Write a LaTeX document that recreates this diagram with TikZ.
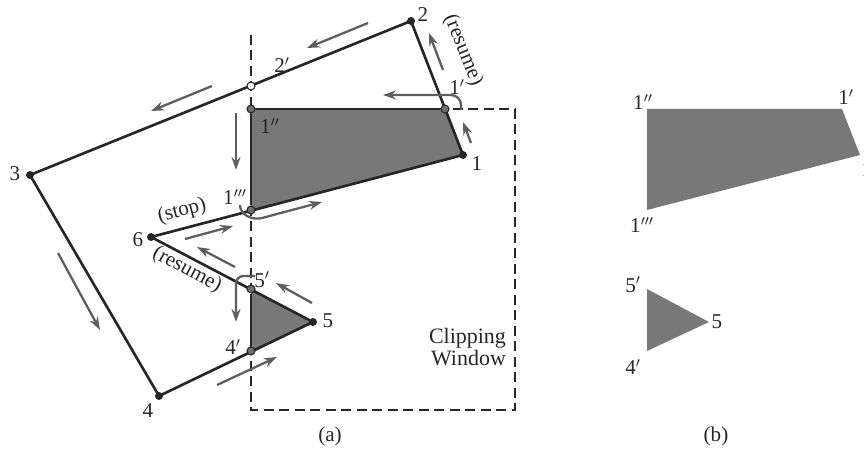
\documentclass[tikz,border=0pt]{standalone}
\usepackage{fontspec}
\setmainfont{Liberation Serif}
\usetikzlibrary{arrows.meta,backgrounds}
\definecolor{polyfill}{HTML}{787878}
\definecolor{edgeblack}{HTML}{262626}
\definecolor{flowgray}{HTML}{5E5E5E}
\definecolor{dotgray}{HTML}{6E6E6E}
\tikzset{
  >={Stealth[length=2.6mm,width=1.8mm]},
  % hörn
  pv/.style={circle,fill=edgeblack,inner sep=0pt,minimum size=1.6mm},
  px/.style={circle,draw=edgeblack,fill=dotgray,line width=0.6pt,inner sep=0pt,minimum size=1.6mm},
  po/.style={circle,draw=edgeblack,fill=white,line width=0.6pt,inner sep=0pt,minimum size=1.6mm},
  % kanter
  pe/.style={draw=edgeblack,line width=1.5pt},
  win/.style={draw=edgeblack,line width=0.9pt,dash pattern=on 2mm off 1.1mm},
  flow/.style={->,draw=flowgray,line width=1.3pt},
  region/.style={fill=polyfill},
  lb/.style={font=\fontsize{12}{13}\selectfont,text=edgeblack,inner sep=1pt},
  wcap/.style={font=\fontsize{12.5}{12.5}\selectfont,text=edgeblack,inner sep=1pt},
}

\begin{document}
\begin{tikzpicture}[x=0.2mm,y=-0.2mm]
  \useasboundingbox (0,0) rectangle (864,451);
  % (a)
  \node[pv] (v1) at (463,155) {};
  \node[pv] (v2) at (411,21) {};
  \node[pv] (v3) at (30,175) {};
  \node[pv] (v4) at (159,396) {};
  \node[pv] (v5) at (313,322) {};
  \node[pv] (v6) at (151,237) {};
  \node[px] (c1p) at (445,109) {};
  \node[px] (c1pp) at (251,109) {};
  \node[px] (c1ppp) at (251,210) {};
  \node[po] (c2p) at (251,86) {};
  \node[px] (c5p) at (251,289) {};
  \node[px] (c4p) at (251,351) {};
  \coordinate (wtop) at (251,35);
  \coordinate (wbl) at (251,410);
  \coordinate (wbr) at (515,410);
  \coordinate (wtr) at (515,109);
  \begin{scope}[on background layer]
  \draw[win] (wtop) -- (wbl) -- (wbr) -- (wtr) -- (c1pp.center);
  \fill[region] (c1pp.center) -- (c1p.center) -- (v1.center) -- (c1ppp.center) -- cycle;
  \fill[region] (c5p.center) -- (v5.center) -- (c4p.center) -- cycle;
  \draw[pe] (v1.center) -- (v2.center) -- (v3.center) -- (v4.center) -- (v5.center) -- (v6.center) -- cycle;
  \draw[pe] (c1p) -- (c1pp) -- (c1ppp);
  \draw[pe] (c5p) -- (c4p);
  \end{scope}
  \node[lb] (l1) at (477,164) {1};
  \node[lb] (l2) at (423,15) {2};
  \node[lb] (l3) at (15,174) {3};
  \node[lb] (l4) at (148,411) {4};
  \node[lb] (l5) at (328,321) {5};
  \node[lb] (l6) at (138,240) {6};
  \node[lb] (l1p) at (457,87) {1$'$};
  \node[lb] (l1pp) at (270,126) {1$''$};
  \node[lb] (l1ppp) at (235,197) {1$'''$};
  \node[lb] (l2p) at (282,65) {2$'$};
  \node[lb] (l5p) at (262,280) {5$'$};
  \node[lb] (l4p) at (233,347) {4$'$};
  \node[lb,rotate=15] (lstop) at (182,211) {(stop)};
  \node[lb,rotate=-28] (lres) at (187,270) {(resume)};
  \node[lb,rotate=-68] (lres2) at (463,50) {(resume)};
  \node[wcap,align=right,anchor=east] (lwin) at (508,347) {Clipping\\Window};
  % pilar
  \draw[flow] (471,143) -- (463,122);
  \draw[flow,rounded corners=2mm] (461,110) |- (383,95);
  \draw[flow] (443,70) -- (429,33);
  \draw[flow] (368,23) -- (307,48);
  \draw[flow] (212,86) -- (151,111);
  \draw[flow] (236,113) -- (236,170);
  \draw[flow] (58,253) -- (100,330);
  \draw[flow] (217,385) -- (277,357);
  \draw[flow] (185,239) -- (233,226);
  \draw[flow] (240,205) to[out=-90,in=195] (262,218) -- (322,202);
  \draw[flow] (235,267) -- (197,247);
  \draw[flow] (312,303) -- (276,283);
  \draw[flow,rounded corners=1.5mm] (255,276) -| (236,322);
  \node[lb] (la) at (330,436) {(a)};
  % (b)
  \coordinate (q1) at (860,155);
  \coordinate (q1p) at (842,109);
  \coordinate (q1pp) at (647,109);
  \coordinate (q1ppp) at (647,210);
  \coordinate (q5) at (709,322);
  \coordinate (q5p) at (647,289);
  \coordinate (q4p) at (647,351);
  \fill[region] (q1pp) -- (q1p) -- (q1) -- (q1ppp) -- cycle;
  \fill[region] (q5p) -- (q5) -- (q4p) -- cycle;
  \node[lb] (m1pp) at (643,102) {1$''$};
  \node[lb] (m1p) at (846,97) {1$'$};
  \node[lb] (m1) at (867,170) {1};
  \node[lb] (m1ppp) at (642,225) {1$'''$};
  \node[lb] (m5p) at (633,285) {5$'$};
  \node[lb] (m5) at (717,322) {5};
  \node[lb] (m4p) at (633,367) {4$'$};
  \node[lb] (lb) at (716,436) {(b)};
\end{tikzpicture}
\end{document}
